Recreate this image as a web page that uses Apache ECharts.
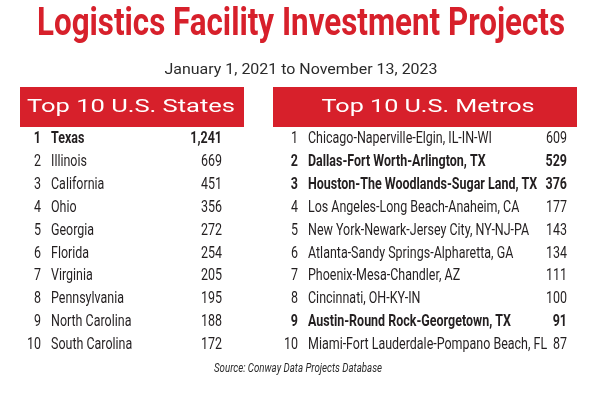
<!DOCTYPE html>
<html><head><meta charset="utf-8">
<script src="https://cdn.jsdelivr.net/npm/echarts@6/dist/echarts.min.js"></script>
<style>html,body{margin:0;padding:0;background:#fff}#c{width:600px;height:404px}</style>
</head><body><div id="c"></div>
<script>
const titleText = 'Logistics Facility Investment Projects';
const subtitleText = 'January 1, 2021 to November 13, 2023';
const sourceText = 'Source: Conway Data Projects Database';
const stateHeader = 'Top 10 U.S. States';
const metroHeader = 'Top 10 U.S. Metros';
const ranks = [1, 2, 3, 4, 5, 6, 7, 8, 9, 10];
const states = ['Texas', 'Illinois', 'California', 'Ohio', 'Georgia', 'Florida', 'Virginia', 'Pennsylvania', 'North Carolina', 'South Carolina'];
const stateValues = [1241, 669, 451, 356, 272, 254, 205, 195, 188, 172];
const boldStates = ['Texas'];
const metros = ['Chicago-Naperville-Elgin, IL-IN-WI', 'Dallas-Fort Worth-Arlington, TX', 'Houston-The Woodlands-Sugar Land, TX', 'Los Angeles-Long Beach-Anaheim, CA', 'New York-Newark-Jersey City, NY-NJ-PA', 'Atlanta-Sandy Springs-Alpharetta, GA', 'Phoenix-Mesa-Chandler, AZ', 'Cincinnati, OH-KY-IN', 'Austin-Round Rock-Georgetown, TX', 'Miami-Fort Lauderdale-Pompano Beach, FL'];
const metroValues = [609, 529, 376, 177, 143, 134, 111, 100, 91, 87];
const boldMetros = ['Dallas-Fort Worth-Arlington, TX', 'Houston-The Woodlands-Sugar Land, TX', 'Austin-Round Rock-Georgetown, TX'];

const RED = '#d7202b';
const INK = '#231f20';
const FONT = 'Roboto, "Liberation Sans", sans-serif';

const mctx = document.createElement('canvas').getContext('2d');
function fit(text, style, size, family, target) {
  mctx.font = style + ' ' + size + 'px ' + family;
  return target / mctx.measureText(text).width;
}
const ROW_SIZE = 16.5;
const rowScale = fit(metros[0], 'normal normal', ROW_SIZE, FONT, 184);

function makeRender(names, values, bolds, layout) {
  return function (params, api) {
    const i = api.value(1);
    const cs = params.coordSys;
    const y = api.coord([0, i])[1] + 1;
    const bold = bolds.indexOf(names[i]) >= 0;
    const st = (text, align) => ({text: text, align: align, verticalAlign: 'middle', fontFamily: FONT, fontSize: ROW_SIZE, fill: INK, fontWeight: bold ? 'bold' : 'normal'});
    return {
      type: 'group',
      children: [
        {type: 'text', x: cs.x + layout.rankX, y: y, scaleX: rowScale, style: st(String(ranks[i]), 'right')},
        {type: 'text', x: cs.x + layout.nameX, y: y, scaleX: rowScale, style: st(names[i], 'left')},
        {type: 'text', x: cs.x + cs.width - layout.valPad, y: y, scaleX: rowScale, style: st(values[i].toLocaleString('en-US'), 'right')}
      ]
    };
  };
}

const TITLE_SIZE = 39;
const HDR_SIZE = 18;
const titleScale = fit(titleText, 'normal bold', TITLE_SIZE, FONT, 528);
const subScale = fit(subtitleText, 'normal normal', 15, FONT, 273);
const srcScale = fit(sourceText, 'italic normal', 13, FONT, 168);
const hdrScaleS = fit(stateHeader, 'normal normal', HDR_SIZE, FONT, 208);
const hdrScaleM = fit(metroHeader, 'normal normal', HDR_SIZE, FONT, 213);

const chart = echarts.init(document.getElementById('c'), null, {renderer: 'canvas'});
const gridTop = 126.5, gridH = 229;
chart.setOption({
  animation: false,
  backgroundColor: '#fff',
  graphic: [
    {type: 'text', x: 301, y: 25, scaleX: titleScale, style: {text: titleText, align: 'center', verticalAlign: 'middle', fill: RED, fontFamily: FONT, fontWeight: 'bold', fontSize: TITLE_SIZE}},
    {type: 'text', x: 301, y: 70, scaleX: subScale, style: {text: subtitleText, align: 'center', verticalAlign: 'middle', fill: '#2b2b2b', fontFamily: FONT, fontWeight: 'normal', fontSize: 15}},
    {type: 'rect', shape: {x: 20, y: 87, width: 224, height: 40}, style: {fill: RED}},
    {type: 'rect', shape: {x: 273, y: 87, width: 304, height: 40}, style: {fill: RED}},
    {type: 'text', x: 131, y: 107, scaleX: hdrScaleS, style: {text: stateHeader, align: 'center', verticalAlign: 'middle', fill: '#fff', fontFamily: FONT, fontWeight: 'normal', fontSize: HDR_SIZE}},
    {type: 'text', x: 428, y: 107, scaleX: hdrScaleM, style: {text: metroHeader, align: 'center', verticalAlign: 'middle', fill: '#fff', fontFamily: FONT, fontWeight: 'normal', fontSize: HDR_SIZE}},
    {type: 'text', x: 298, y: 369, scaleX: srcScale, style: {text: sourceText, align: 'center', verticalAlign: 'middle', fill: '#2b2b2b', fontFamily: FONT, fontStyle: 'italic', fontSize: 13}}
  ],
  grid: [
    {left: 20, width: 224, top: gridTop, height: gridH},
    {left: 273, width: 304, top: gridTop, height: gridH}
  ],
  xAxis: [
    {gridIndex: 0, type: 'value', show: false, min: 0, max: 1},
    {gridIndex: 1, type: 'value', show: false, min: 0, max: 1}
  ],
  yAxis: [
    {gridIndex: 0, type: 'category', inverse: true, data: ranks, show: false},
    {gridIndex: 1, type: 'category', inverse: true, data: ranks, show: false}
  ],
  series: [
    {type: 'custom', xAxisIndex: 0, yAxisIndex: 0, data: states.map((s, i) => [0, i]),
     renderItem: makeRender(states, stateValues, boldStates, {rankX: 21, nameX: 31, valPad: 22})},
    {type: 'custom', xAxisIndex: 1, yAxisIndex: 1, data: metros.map((s, i) => [0, i]),
     renderItem: makeRender(metros, metroValues, boldMetros, {rankX: 25, nameX: 35, valPad: 10})}
  ]
});
</script></body></html>
